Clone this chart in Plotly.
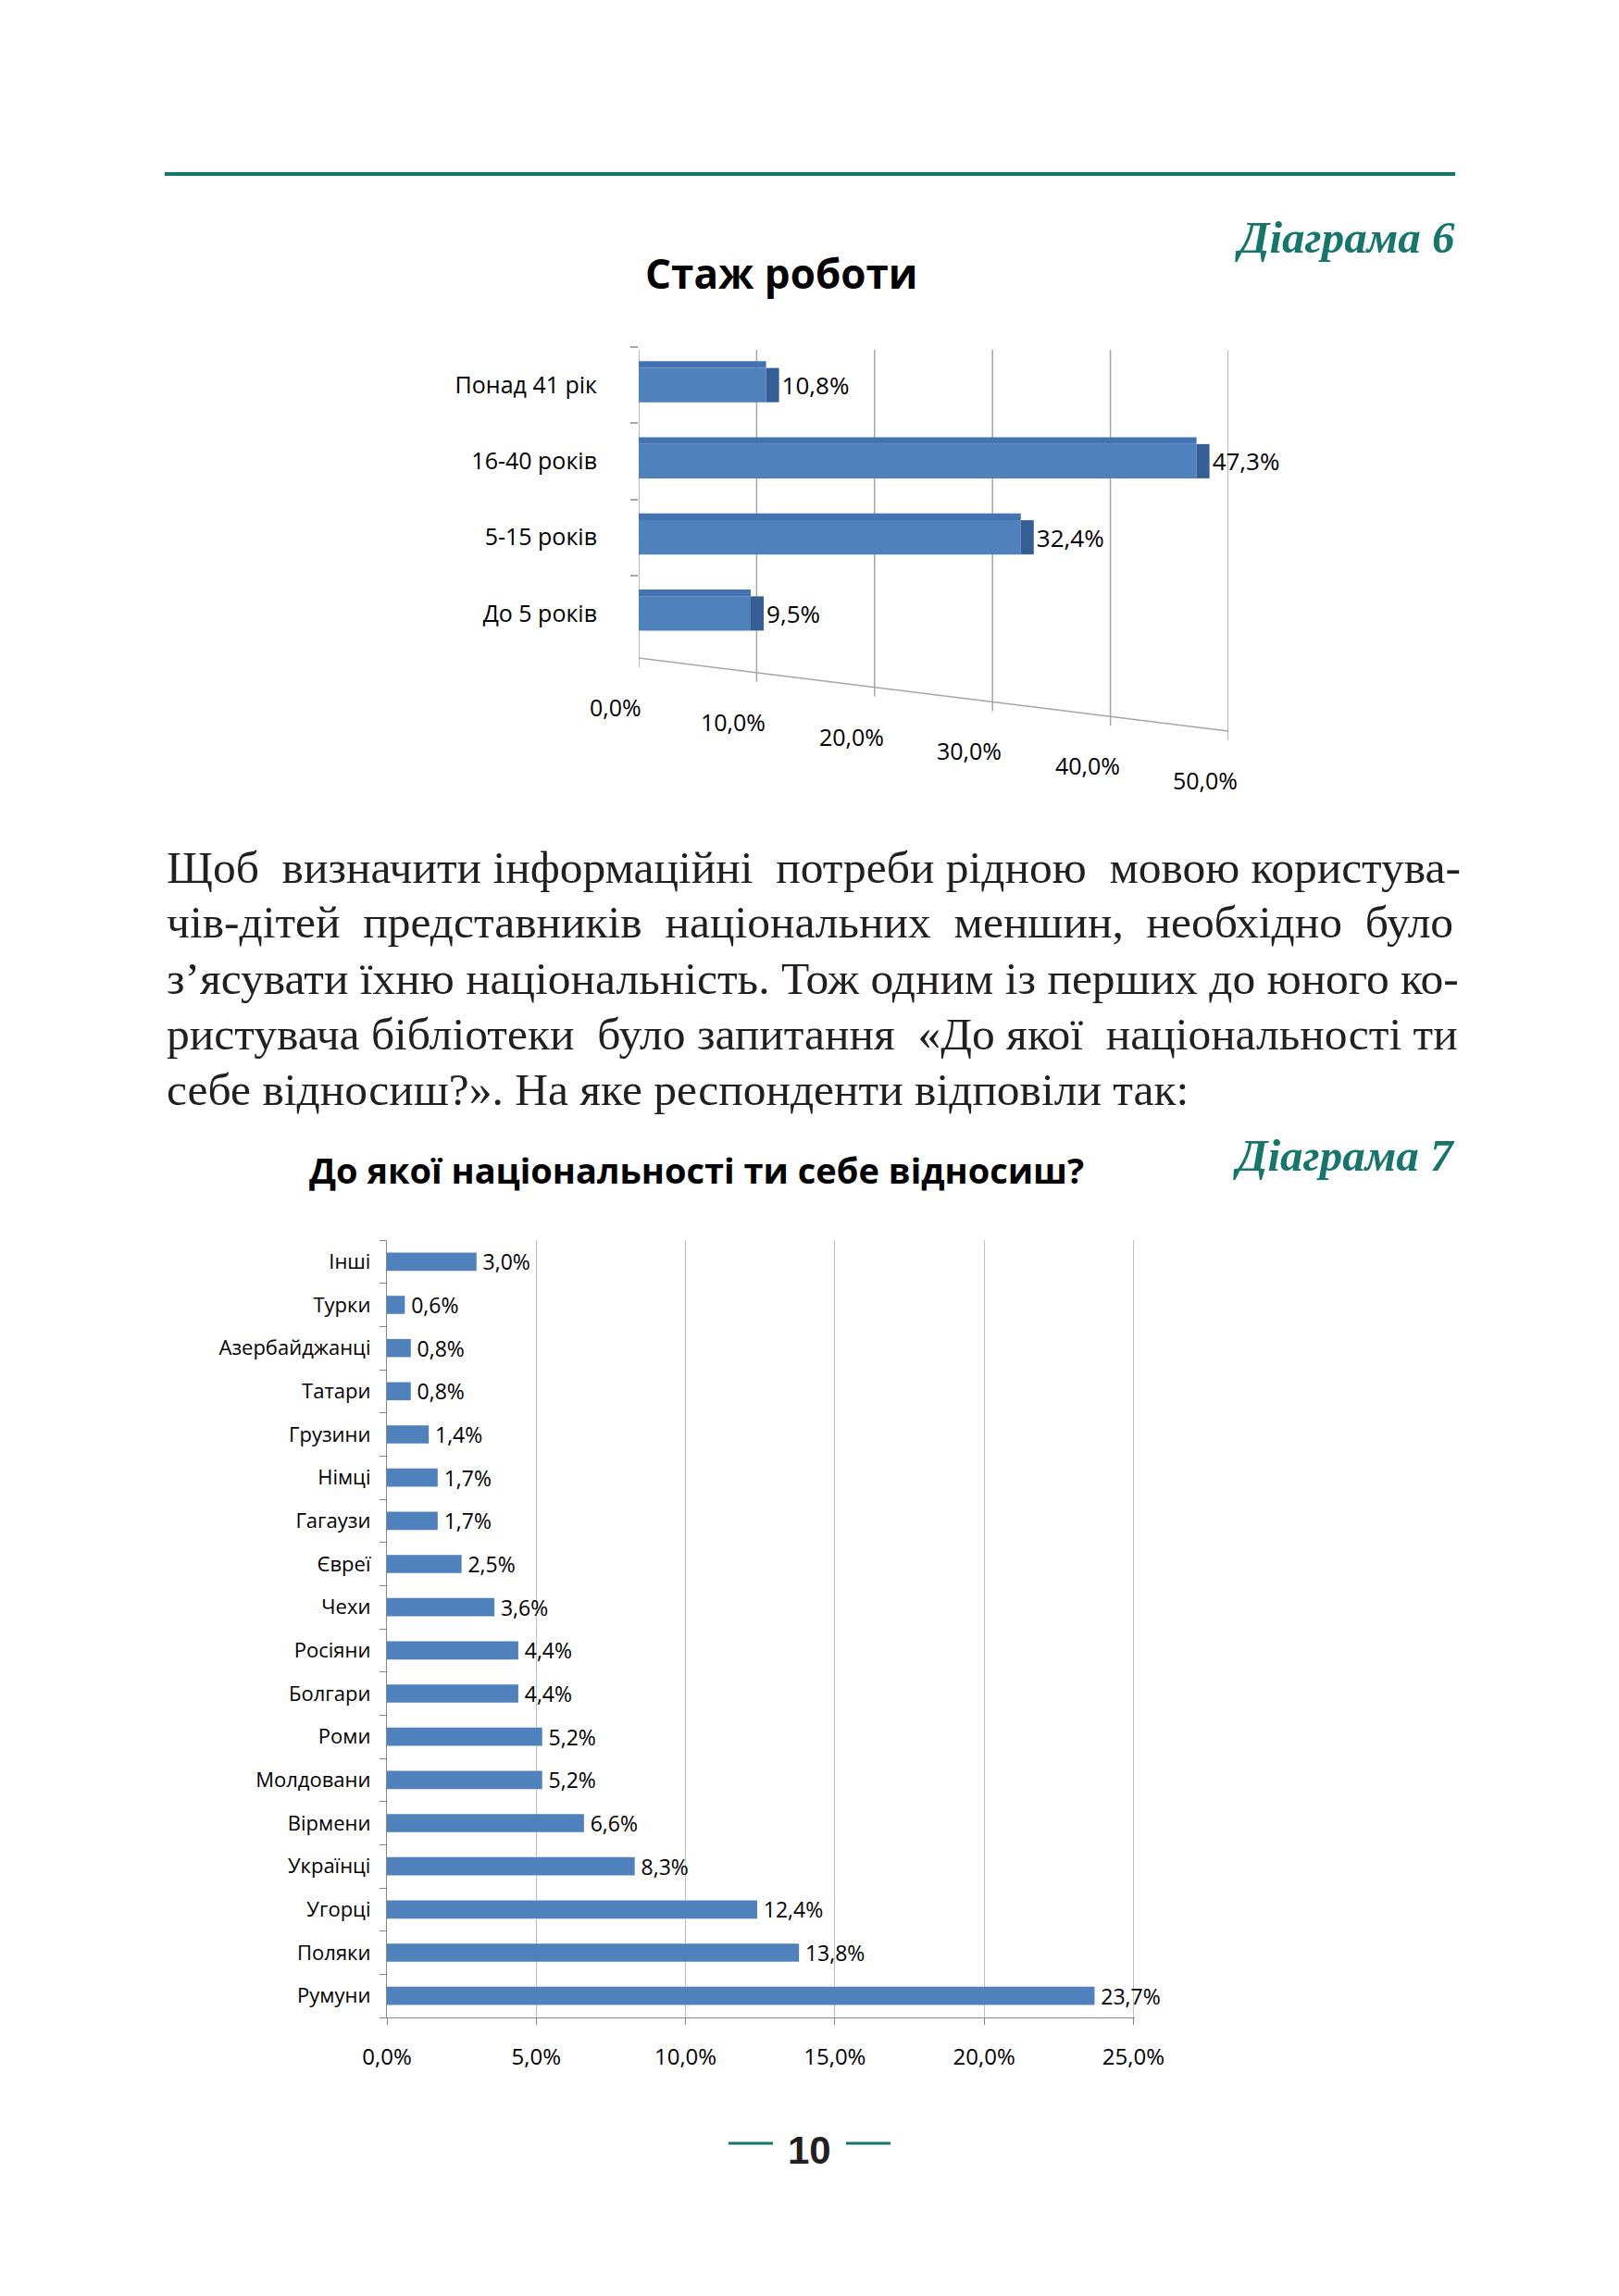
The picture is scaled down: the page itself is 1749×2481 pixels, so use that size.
import plotly.graph_objects as go

W, H = 1749, 2481

def X(px):
    return px / W

def Y(px):
    return 1 - px / H

# ---------------- data ----------------
title1 = "Стаж роботи"
cats1 = ["До 5 років", "5-15 років", "16-40 років", "Понад 41 рік"]
vals1 = [9.5, 32.4, 47.3, 10.8]
ticks1 = [0, 10, 20, 30, 40, 50]
ticklabels1 = ["0,0%", "10,0%", "20,0%", "30,0%", "40,0%", "50,0%"]

title2 = "До якої національності ти себе відносиш?"
cats2 = ["Румуни", "Поляки", "Угорці", "Українці", "Вірмени", "Молдовани", "Роми",
         "Болгари", "Росіяни", "Чехи", "Євреї", "Гагаузи", "Німці", "Грузини",
         "Татари", "Азербайджанці", "Турки", "Інші"]
vals2 = [23.7, 13.8, 12.4, 8.3, 6.6, 5.2, 5.2, 4.4, 4.4, 3.6, 2.5, 1.7, 1.7, 1.4,
         0.8, 0.8, 0.6, 3.0]
ticks2 = [0, 5, 10, 15, 20, 25]
ticklabels2 = ["0,0%", "5,0%", "10,0%", "15,0%", "20,0%", "25,0%"]

paragraph = [
    "Щоб визначити інформаційні потреби рідною мовою користува-",
    "чів-дітей представників національних меншин, необхідно було",
    "з’ясувати їхню національність. Тож одним із перших до юного ко-",
    "ристувача бібліотеки було запитання «До якої національності ти",
    "себе відносиш?». На яке респонденти відповіли так:",
]
# extra non-breaking spaces per word gap (approximate justification)
extra_gaps = [
    [1, 0, 1, 0, 1, 0],
    [1, 1, 1, 1, 1],
    [0] * 11,
    [0, 1, 0, 1, 0, 1, 0],
    [0] * 7,
]

def pct(v):
    return f"{v:.1f}%".replace(".", ",")

def justify(line, extras):
    words = line.split(" ")
    out = words[0]
    for w, e in zip(words[1:], extras):
        out += " " + "\u00a0" * e + w
    return out

# ---------------- styles ----------------
BLUE = "#4F81BD"
BLUE_TOP = "#4373B3"
BLUE_SIDE = "#345E95"
TEAL = "#17766C"
GRID = "#A6A6A6"
AXIS = "#868686"
SANS = "Open Sans"
SERIF = "Liberation Serif"
DEPTH = 1.1  # visual depth of the pseudo-3D side face (in % units)

fig = go.Figure()

# ---- chart 1: pseudo 3D bars ----
fig.add_trace(go.Bar(x=vals1, y=cats1, orientation="h", width=0.45, offset=-0.225,
                     marker=dict(color=BLUE, line=dict(width=0)),
                     xaxis="x", yaxis="y", hoverinfo="skip"))
fig.add_trace(go.Bar(x=vals1, y=cats1, orientation="h", width=0.09, offset=0.225,
                     marker=dict(color=BLUE_TOP, line=dict(width=0)),
                     xaxis="x", yaxis="y", hoverinfo="skip"))
fig.add_trace(go.Bar(x=[DEPTH] * len(vals1), base=vals1, y=cats1, orientation="h",
                     width=0.45, offset=-0.225,
                     marker=dict(color=BLUE_SIDE, line=dict(width=0)),
                     text=[pct(v) for v in vals1], textposition="outside",
                     constraintext="none",
                     textfont=dict(family=SANS, size=26, color="#000000"),
                     cliponaxis=False, xaxis="x", yaxis="y", hoverinfo="skip"))

# ---- chart 2: flat bars ----
fig.add_trace(go.Bar(x=vals2, y=cats2, orientation="h", width=0.42,
                     marker=dict(color=BLUE, line=dict(width=0)),
                     text=["\u2009" + pct(v) for v in vals2], textposition="outside",
                     constraintext="none",
                     textfont=dict(family=SANS, size=23, color="#000000"),
                     cliponaxis=False, xaxis="x2", yaxis="y2", hoverinfo="skip"))

# ---------------- axes ----------------
fig.update_layout(
    template="none",
    width=W, height=H, margin=dict(l=0, r=0, t=0, b=0, pad=0), autosize=False,
    paper_bgcolor="white", plot_bgcolor="rgba(0,0,0,0)",
    showlegend=False, barmode="overlay",
    font=dict(family=SANS, color="#000000"),
    xaxis=dict(domain=[X(690), X(1327)], range=[0, 50], anchor="y", automargin=False,
               showticklabels=False, showgrid=False, zeroline=False, showline=False,
               ticks="", fixedrange=True),
    yaxis=dict(domain=[Y(704), Y(375)], anchor="x", type="category", automargin=False,
               range=[-0.5, 3.5], showline=False, showgrid=False, zeroline=False,
               ticks="outside", tickson="boundaries", ticklen=8, tickcolor=GRID,
               tickwidth=1.5, ticklabelstandoff=44,
               tickfont=dict(family=SANS, size=25, color="#000000")),
    xaxis2=dict(domain=[X(418), X(1226)], range=[0, 25.05], anchor="y2", automargin=False,
                tickvals=ticks2, ticktext=ticklabels2,
                showgrid=True, gridcolor="#BFBFBF", gridwidth=1.3,
                showline=True, linecolor=AXIS, linewidth=1.3, zeroline=False,
                ticks="outside", ticklen=7, tickcolor=AXIS, tickwidth=1.3,
                ticklabelstandoff=14,
                tickfont=dict(family=SANS, size=24, color="#000000")),
    yaxis2=dict(domain=[Y(2180), Y(1340)], anchor="x2", type="category", automargin=False,
                range=[-0.5, 17.5], showline=True, linecolor=AXIS, linewidth=1.3,
                showgrid=False, zeroline=False,
                ticks="outside", tickson="boundaries", ticklen=7, tickcolor=AXIS,
                tickwidth=1.3, ticklabelstandoff=12,
                tickfont=dict(family=SANS, size=22, color="#000000")),
)

shapes = []
# page header rule
shapes.append(dict(type="line", xref="paper", yref="paper", x0=X(178), x1=X(1572),
                   y0=Y(188), y1=Y(188), line=dict(color=TEAL, width=4)))
# chart 1 pseudo-3D walls / floor
def front_y(v):
    return 711 + 1.58 * v

for v in ticks1:
    shapes.append(dict(type="line", xref="x", yref="paper", x0=v, x1=v,
                       y0=Y(378), y1=Y(front_y(v)), line=dict(color=GRID, width=1.5),
                       layer="below"))
    shapes.append(dict(type="line", xref="x", yref="paper", x0=v, x1=v,
                       y0=Y(front_y(v)), y1=Y(front_y(v) + 10),
                       line=dict(color=GRID, width=1.5)))
shapes.append(dict(type="line", xref="x", yref="paper", x0=0, x1=50,
                   y0=Y(front_y(0)), y1=Y(front_y(50)), line=dict(color=GRID, width=1.5)))
# page number rules
shapes.append(dict(type="line", xref="paper", yref="paper", x0=X(787), x1=X(835),
                   y0=Y(2316), y1=Y(2316), line=dict(color=TEAL, width=3)))
shapes.append(dict(type="line", xref="paper", yref="paper", x0=X(914), x1=X(962),
                   y0=Y(2316), y1=Y(2316), line=dict(color=TEAL, width=3)))

ann = []
ann.append(dict(text="<b><i>Діаграма 6</i></b>", x=X(1574), y=Y(257), xref="paper", yref="paper",
                xanchor="right", yanchor="middle", showarrow=False,
                font=dict(family=SERIF, size=49, color=TEAL)))
ann.append(dict(text=f"<b>{title1}</b>", x=X(844), y=Y(295), xref="paper", yref="paper",
                xanchor="center", yanchor="middle", showarrow=False,
                font=dict(family=SANS, size=44, color="#000000")))
for v, t in zip(ticks1, ticklabels1):
    ann.append(dict(text=t, x=v, y=Y(front_y(v) + 53), xref="x", yref="paper",
                    xanchor="center", yanchor="middle", showarrow=False, xshift=-25,
                    font=dict(family=SANS, size=25, color="#000000")))
line_y = [937, 997, 1057, 1117, 1177]
for t, e, yy in zip(paragraph, extra_gaps, line_y):
    ann.append(dict(text=justify(t, e), x=X(178), y=Y(yy), xref="paper", yref="paper",
                    xanchor="left", yanchor="middle", showarrow=False,
                    font=dict(family=SERIF, size=49.5, color="#231F20")))
ann.append(dict(text="<b><i>Діаграма 7</i></b>", x=X(1574), y=Y(1248), xref="paper", yref="paper",
                xanchor="right", yanchor="middle", showarrow=False,
                font=dict(family=SERIF, size=49, color=TEAL)))
ann.append(dict(text=f"<b>{title2}</b>", x=X(752), y=Y(1264), xref="paper", yref="paper",
                xanchor="center", yanchor="middle", showarrow=False,
                font=dict(family=SANS, size=38, color="#000000")))
ann.append(dict(text="<b>10</b>", x=X(875), y=Y(2323), xref="paper", yref="paper",
                xanchor="center", yanchor="middle", showarrow=False,
                font=dict(family="Liberation Sans", size=42, color="#231F20")))

fig.update_layout(shapes=shapes, annotations=ann)

fig.write_html("out.html", config={"displayModeBar": False},
               post_script="document.body.style.margin='0';")
